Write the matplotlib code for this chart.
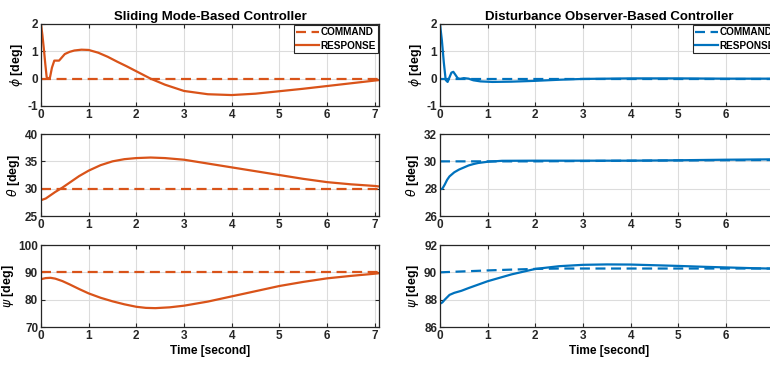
import numpy as np
import matplotlib.pyplot as plt

# colours used by the two controllers
SMC_COLOR = '#D95319'
DOB_COLOR = '#0072BD'

# --- sliding mode controller (left column) ---
smc_phi_t = [0, 0.03, 0.06, 0.09, 0.12, 0.16, 0.19, 0.23, 0.28, 0.33, 0.38, 0.44, 0.5, 0.6, 0.7, 0.85,
             1.0, 1.2, 1.4, 1.6, 1.8, 2.0, 2.3, 2.6, 3.0, 3.5, 4.0, 4.5, 5.0, 5.5, 6.0, 6.5, 7.0, 7.1]
smc_phi = [2.0, 1.6, 1.1, 0.55, 0.05, 0.0, 0.05, 0.4, 0.66, 0.66, 0.66, 0.78, 0.9, 0.98, 1.03, 1.06,
           1.05, 0.95, 0.8, 0.62, 0.45, 0.27, 0.0, -0.22, -0.45, -0.57, -0.6, -0.55, -0.46, -0.37, -0.27, -0.17, -0.07, -0.05]
smc_phi_cmd = [0, 0, 0, 0]
smc_cmd_t = [0, 2, 4, 7.1]

smc_theta_t = [0, 0.1, 0.2, 0.3, 0.45, 0.6, 0.8, 1.0, 1.25, 1.5, 1.75, 2.0, 2.3, 2.6, 3.0, 3.5, 4.0,
               4.5, 5.0, 5.5, 6.0, 6.5, 7.0, 7.1]
smc_theta = [27.9, 28.2, 28.8, 29.4, 30.2, 31.1, 32.3, 33.3, 34.3, 35.0, 35.4, 35.6, 35.7, 35.6, 35.3,
             34.6, 33.9, 33.2, 32.5, 31.8, 31.2, 30.8, 30.5, 30.4]
smc_theta_cmd = [30, 30, 30, 30]

smc_psi_t = [0, 0.1, 0.2, 0.3, 0.45, 0.6, 0.8, 1.0, 1.25, 1.5, 1.75, 2.0, 2.2, 2.4, 2.7, 3.0, 3.5,
             4.0, 4.5, 5.0, 5.5, 6.0, 6.5, 7.0, 7.1]
smc_psi = [87.5, 87.9, 88.0, 87.7, 86.8, 85.6, 83.9, 82.3, 80.7, 79.4, 78.3, 77.4, 77.0, 76.9, 77.2,
           77.8, 79.3, 81.2, 83.1, 85.0, 86.5, 87.8, 88.7, 89.5, 89.7]
smc_psi_cmd = [90, 90, 90, 90]

# --- disturbance observer controller (right column) ---
dob_phi_t = [0, 0.04, 0.08, 0.12, 0.16, 0.2, 0.24, 0.28, 0.32, 0.37, 0.42, 0.5, 0.6, 0.7, 0.85, 1.1,
             1.5, 2.0, 2.5, 3.0, 4.0, 5.0, 6.0, 7.1]
dob_phi = [2.0, 1.4, 0.6, -0.05, -0.12, 0.05, 0.22, 0.25, 0.15, 0.02, -0.01, 0.02, 0.0, -0.06, -0.1, -0.12,
           -0.11, -0.08, -0.04, -0.01, 0.01, 0.01, 0.0, 0.0]
dob_phi_cmd = [0, 0, 0, 0]
dob_cmd_t = [0, 2, 4, 7.1]

dob_theta_t = [0, 0.05, 0.1, 0.15, 0.2, 0.3, 0.4, 0.5, 0.6, 0.7, 0.8, 1.0, 1.3, 2.0, 3.0, 4.0, 5.0, 6.0, 7.1]
dob_theta = [27.95, 28.0, 28.3, 28.65, 28.9, 29.2, 29.4, 29.55, 29.7, 29.8, 29.88, 29.97, 30.04, 30.05,
             30.05, 30.05, 30.08, 30.12, 30.15]
dob_theta_cmd = [30, 30, 30.05, 30.1]

dob_psi_t = [0, 0.05, 0.1, 0.2, 0.3, 0.45, 0.6, 0.8, 1.0, 1.25, 1.5, 1.75, 2.0, 2.5, 3.0, 3.5, 4.0, 4.5,
             5.0, 5.5, 6.0, 6.5, 7.0, 7.1]
dob_psi = [87.7, 87.8, 88.0, 88.35, 88.5, 88.65, 88.85, 89.1, 89.35, 89.6, 89.85, 90.05, 90.25, 90.45,
           90.55, 90.58, 90.57, 90.52, 90.47, 90.41, 90.36, 90.31, 90.27, 90.25]
dob_psi_cmd_t = [0, 0.5, 1.0, 1.5, 2.0, 2.5, 7.1]
dob_psi_cmd = [90.0, 90.07, 90.14, 90.2, 90.25, 90.28, 90.28]

y_labels = [r'$\phi$ [deg]', r'$\theta$ [deg]', r'$\psi$ [deg]']
smc_ylims = [(-1, 2), (25, 40), (70, 100)]
smc_yticks = [[-1, 0, 1, 2], [25, 30, 35, 40], [70, 80, 90, 100]]
dob_ylims = [(-1, 2), (26, 32), (86, 92)]
dob_yticks = [[-1, 0, 1, 2], [26, 28, 30, 32], [86, 88, 90, 92]]
x_ticks = [0, 1, 2, 3, 4, 5, 6, 7]

plt.rcParams['font.family'] = ['Liberation Sans', 'DejaVu Sans']
plt.rcParams['mathtext.default'] = 'it'
plt.rcParams['axes.unicode_minus'] = False

fig = plt.figure(figsize=(7.7, 3.68), dpi=100)

rows_bottom = [0.712, 0.413, 0.1114]
row_h = 0.2228
col_left = [0.0532, 0.5714]
col_w = 0.4396


def style_axes(ax, ylim, yticks, ylabel):
    ax.set_xlim(0, 7.1)
    ax.set_ylim(*ylim)
    ax.set_xticks(x_ticks)
    ax.set_yticks(yticks)
    ax.grid(True, color='#dcdcdc', linewidth=0.8)
    ax.set_axisbelow(True)
    ax.tick_params(direction='in', length=3, width=0.8, top=True, right=True,
                   labelsize=8.5, pad=2, colors='#262626')
    for lab in ax.get_xticklabels() + ax.get_yticklabels():
        lab.set_fontweight('bold')
    for sp in ax.spines.values():
        sp.set_color('#262626')
        sp.set_linewidth(0.9)
    ax.set_ylabel(ylabel, fontsize=9, fontweight='bold', labelpad=2)


smc_data = [(smc_phi_t, smc_phi, smc_cmd_t, smc_phi_cmd),
            (smc_theta_t, smc_theta, smc_cmd_t, smc_theta_cmd),
            (smc_psi_t, smc_psi, smc_cmd_t, smc_psi_cmd)]
dob_data = [(dob_phi_t, dob_phi, dob_cmd_t, dob_phi_cmd),
            (dob_theta_t, dob_theta, dob_cmd_t, dob_theta_cmd),
            (dob_psi_t, dob_psi, dob_psi_cmd_t, dob_psi_cmd)]

columns = [(smc_data, SMC_COLOR, smc_ylims, smc_yticks, 'Sliding Mode-Based Controller'),
           (dob_data, DOB_COLOR, dob_ylims, dob_yticks, 'Disturbance Observer-Based Controller')]

for c, (data, colr, ylims, yticks, title) in enumerate(columns):
    for r in range(3):
        ax = fig.add_axes([col_left[c], rows_bottom[r], col_w, row_h])
        t, y, tc, yc = data[r]
        ax.plot(tc, yc, color=colr, linewidth=1.6, linestyle=(0, (4.5, 2.5)), label='COMMAND')
        ax.plot(t, y, color=colr, linewidth=1.6, label='RESPONSE')
        style_axes(ax, ylims[r], yticks[r], y_labels[r])
        if r == 0:
            ax.set_title(title, fontsize=9.5, fontweight='bold', pad=3)
            leg = ax.legend(loc='upper right', handlelength=2.3, handletextpad=0.15,
                            labelspacing=0.35, borderpad=0.25, borderaxespad=0.1,
                            fancybox=False, framealpha=1, edgecolor='#262626',
                            prop={'weight': 'bold', 'size': 7.2})
            leg.get_frame().set_linewidth(0.8)
        if r == 2:
            ax.set_xlabel('Time [second]', fontsize=8.6, fontweight='bold', labelpad=2)

fig.savefig('out.png', dpi=100)
